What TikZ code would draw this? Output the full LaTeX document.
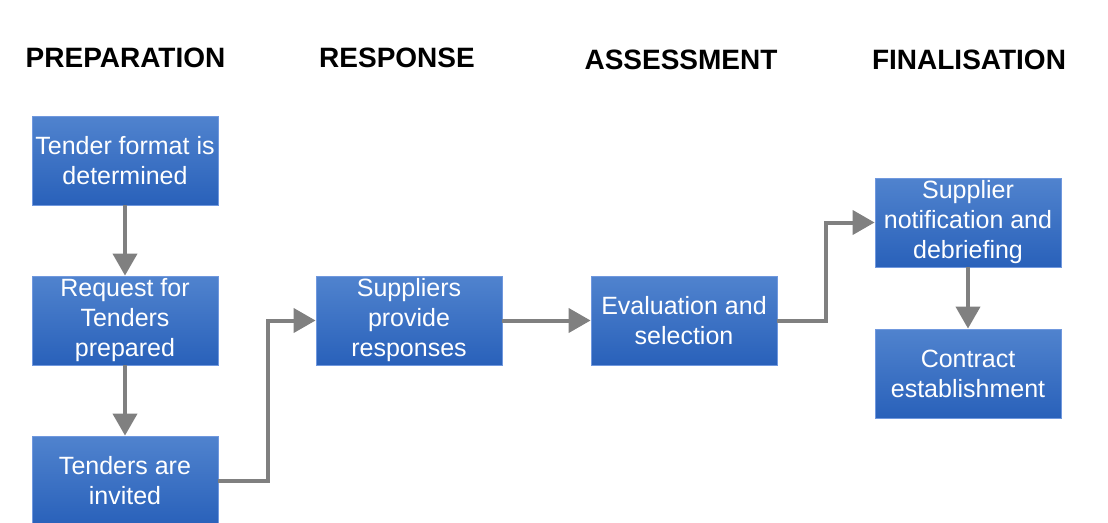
\documentclass[tikz,border=0pt]{standalone}
\usepackage{fontspec}
\setmainfont{Liberation Sans}
\usetikzlibrary{arrows.meta}
\definecolor{boxtop}{RGB}{80,131,206}
\definecolor{boxbottom}{RGB}{41,97,186}
\definecolor{boxline}{RGB}{112,152,222}
\definecolor{flowgray}{RGB}{128,128,128}
\begin{document}
\begin{tikzpicture}[x=1pt, y=-1pt, line join=miter,
	stage/.style={draw=boxline, line width=0.8pt, top color=boxtop, bottom color=boxbottom,
		minimum width=186pt, minimum height=89pt, inner sep=0pt, align=center, text=white,
		font=\fontsize{25}{30}\selectfont},
	phase/.style={font=\fontsize{28}{32}\selectfont\bfseries},
	flow/.style={draw=flowgray, line width=4pt, -{Triangle[length=22pt,width=24pt]}}]
	\useasboundingbox (0,0) rectangle (1108,522);
	% headers
	\node[phase] (prep) at (125.5,58) {PREPARATION};
	\node[phase] (resp) at (397,58) {RESPONSE};
	\node[phase] (assess) at (681,60) {ASSESSMENT};
	\node[phase] (final) at (969,60) {FINALISATION};
	% stages
	\node[stage] (format) at (125,160.5) {Tender format is\\determined};
	\node[stage] (request) at (125,320.5) {Request for\\Tenders\\prepared};
	\node[stage] (invite) at (125,480.5) {Tenders are\\invited};
	\node[stage] (respond) at (409,320.5) {Suppliers\\provide\\responses};
	\node[stage] (evaluate) at (684,320.5) {Evaluation and\\selection};
	\node[stage] (notify) at (968,222.5) {Supplier\\notification and\\debriefing};
	\node[stage] (contract) at (968,373.5) {Contract\\establishment};
	% connectors
	\draw[flow] (format) -- (request);
	\draw[flow] (request) -- (invite);
	\draw[flow] (invite.east) -- ++(50,0) |- (respond.west);
	\draw[flow] (respond) -- (evaluate);
	\draw[flow] (evaluate.east) -- ++(49,0) |- (notify.west);
	\draw[flow] (notify) -- (contract);
\end{tikzpicture}
\end{document}
